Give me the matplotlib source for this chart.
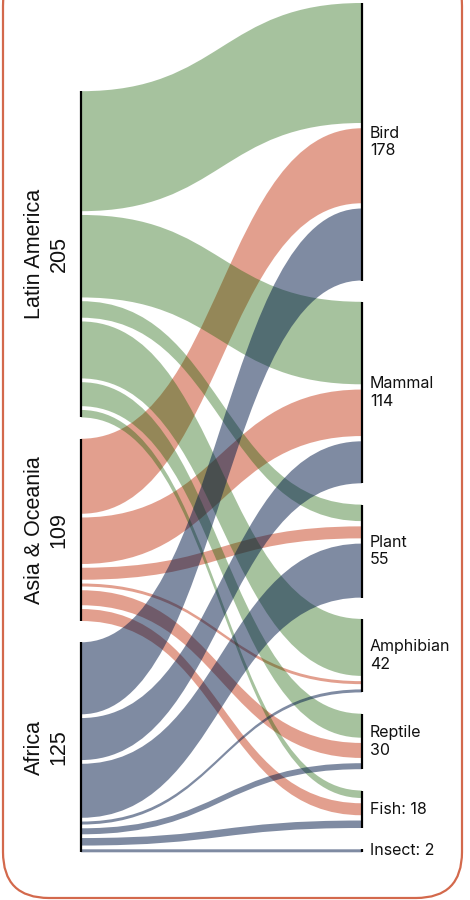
import numpy as np
import matplotlib.pyplot as plt
from matplotlib.path import Path
from matplotlib.patches import PathPatch, FancyBboxPatch
from matplotlib.colors import to_rgb

# Left nodes (regions) and right nodes (species groups)
regions = ['Latin America', 'Asia & Oceania', 'Africa']
region_totals = [205, 109, 125]
groups = ['Bird', 'Mammal', 'Plant', 'Amphibian', 'Reptile', 'Fish', 'Insect']
group_totals = [178, 114, 55, 42, 30, 18, 2]

# Flows region -> group (same order as groups)
latin_america = [80, 55, 11, 38, 16, 5, 0]
asia_oceania = [50, 31, 8, 2, 10, 8, 0]
africa = [48, 28, 36, 2, 4, 5, 2]
flows = [latin_america, asia_oceania, africa]

# how each ribbon looks on white
region_colors = ['#a7c39a', '#e3a08f', '#7f8ca3']
region_alpha = [0.38, 0.5, 0.5]

# -------- layout
W, H = 470, 900
PX = 1.5                 # pixels per species
x_left, x_right = 81, 362
gap_left, gap_right = 2.5, 3.5
pad = 14.2
top = 2

fig = plt.figure(figsize=(W / 100, H / 100), dpi=100)

# card background (pixel coords)
bg = fig.add_axes([0, 0, 1, 1], zorder=0)
bg.set_xlim(0, W)
bg.set_ylim(H, 0)
bg.axis('off')
bg.add_patch(FancyBboxPatch((3, -40), 459, 938, boxstyle='round,pad=0,rounding_size=46',
                            facecolor='white', edgecolor='#d3694c', linewidth=1.6))

ax = fig.add_axes([0, 0, 1, 1], zorder=1)
ax.set_xlim(0, W)
ax.set_ylim(H / PX, 0)
ax.axis('off')
ax.patch.set_alpha(0)

n_r, n_g = len(regions), len(groups)

# right column positions
right_nodes = []
y = top
for j in range(n_g):
    vals = [flows[i][j] for i in range(n_r) if flows[i][j] > 0]
    h = sum(vals) + (len(vals) - 1) * gap_right
    right_nodes.append((y, y + h))
    y += h + pad
bottom = right_nodes[-1][1]

# left column, bottom aligned with the right one
left_nodes = [None] * n_r
y = bottom
for i in reversed(range(n_r)):
    vals = [v for v in flows[i] if v > 0]
    h = sum(vals) + (len(vals) - 1) * gap_left
    left_nodes[i] = (y - h, y)
    y -= h + pad

# link slots at each end
src = {}
for i in range(n_r):
    cur = left_nodes[i][0]
    for j in range(n_g):
        v = flows[i][j]
        if v > 0:
            src[(i, j)] = (cur, cur + v)
            cur += v + gap_left
dst = {}
for j in range(n_g):
    cur = right_nodes[j][0]
    for i in range(n_r):
        v = flows[i][j]
        if v > 0:
            dst[(i, j)] = (cur, cur + v)
            cur += v + gap_right


def ribbon(y0, y1, y2, y3):
    xm = (x_left + x_right) / 2
    verts = [(x_left, y0), (xm, y0), (xm, y2), (x_right, y2),
             (x_right, y3), (xm, y3), (xm, y1), (x_left, y1), (x_left, y0)]
    codes = [Path.MOVETO, Path.CURVE4, Path.CURVE4, Path.CURVE4,
             Path.LINETO, Path.CURVE4, Path.CURVE4, Path.CURVE4, Path.CLOSEPOLY]
    return Path(verts, codes)


# draw red first, then green, blue on top; darker base + alpha mimics a multiply blend
for i in [1, 0, 2]:
    look = np.array(to_rgb(region_colors[i]))
    al = region_alpha[i]
    base = np.clip((look - (1 - al)) / al, 0, 1)
    for j in range(n_g):
        if flows[i][j] > 0:
            a, b = src[(i, j)]
            c, d = dst[(i, j)]
            ax.add_patch(PathPatch(ribbon(a, b, c, d), facecolor=base, alpha=al,
                                   edgecolor='none', zorder=2))

# node bars
for y0, y1 in left_nodes:
    ax.plot([x_left, x_left], [y0, y1], color='black', lw=1.6, solid_capstyle='butt', zorder=3)
for y0, y1 in right_nodes:
    ax.plot([x_right, x_right], [y0, y1], color='black', lw=1.6, solid_capstyle='butt', zorder=3)

# labels
for i, name in enumerate(regions):
    yc = sum(left_nodes[i]) / 2
    ax.text(47, yc, f"{name}\n{region_totals[i]}", rotation=90, ha='center', va='center',
            multialignment='center', fontsize=15.5, family='Liberation Sans', color='#111111')

for j, name in enumerate(groups):
    yc = sum(right_nodes[j]) / 2
    label = f"{name}\n{group_totals[j]}" if group_totals[j] >= 25 else f"{name}: {group_totals[j]}"
    ax.text(x_right + 8, yc, label, ha='left', va='center', fontsize=11.5,
            family='Inter', color='#111111', linespacing=1.2)

fig.savefig('out.png', dpi=100)
